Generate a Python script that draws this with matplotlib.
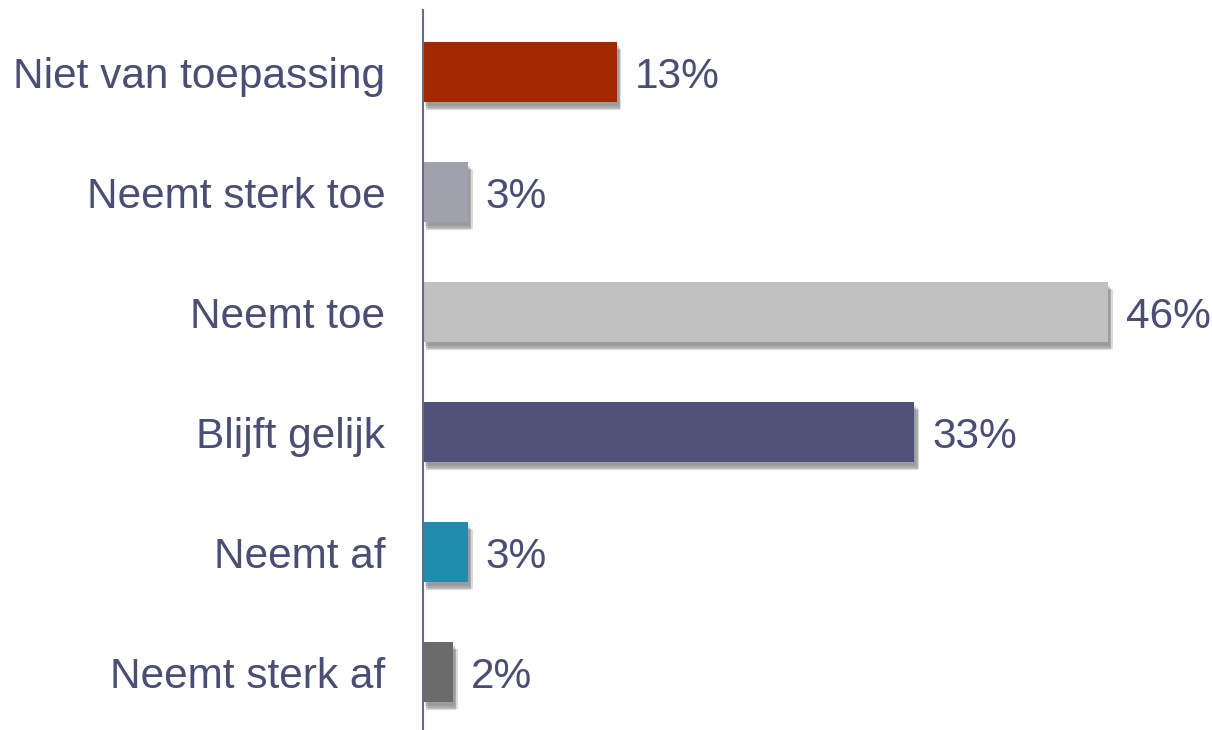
import matplotlib.pyplot as plt
import matplotlib.patheffects as pe

plt.rcParams['font.family'] = ['Liberation Sans', 'DejaVu Sans']

categories = ["Neemt sterk af", "Neemt af", "Blijft gelijk", "Neemt toe",
              "Neemt sterk toe", "Niet van toepassing"]
values = [2, 3, 33, 46, 3, 13]
colors = ["#6b6b6b", "#1f8dab", "#4f5178", "#c0c0c0", "#a1a1ae", "#a32800"]
text_color = "#4a4e75"

fig = plt.figure(figsize=(12.12, 7.3), dpi=100)
ax = fig.add_axes([423 / 1212, 0, 1 - 423 / 1212, 720 / 730])

# soft shadow: a few stacked offset copies
shadow = [pe.SimplePatchShadow(offset=(dx, dy), shadow_rgbFace="#707070", alpha=0.25)
          for dx, dy in [(1.5, -3), (2.5, -4), (3.5, -5), (2.5, -6)]]
bars = ax.barh(range(len(categories)), values, height=0.5, color=colors,
               path_effects=shadow + [pe.Normal()])

for i, v in enumerate(values):
    ax.annotate(f"{v}%", (v, i), xytext=(13, 0), textcoords="offset points",
                va="center_baseline", ha="left", fontsize=30.5, color=text_color)

ax.set_xlim(0, 53)
ax.set_ylim(-0.483, 5.517)
ax.set_yticks(range(len(categories)))
ax.set_yticklabels(categories, fontsize=30.5, color=text_color, va="center_baseline")
ax.tick_params(axis="y", length=0, pad=27)
ax.set_xticks([])
for s in ["top", "right", "bottom"]:
    ax.spines[s].set_visible(False)
ax.spines["left"].set_color("#6a6a8c")
ax.spines["left"].set_linewidth(1.5)

fig.savefig("out.png", dpi=100)
